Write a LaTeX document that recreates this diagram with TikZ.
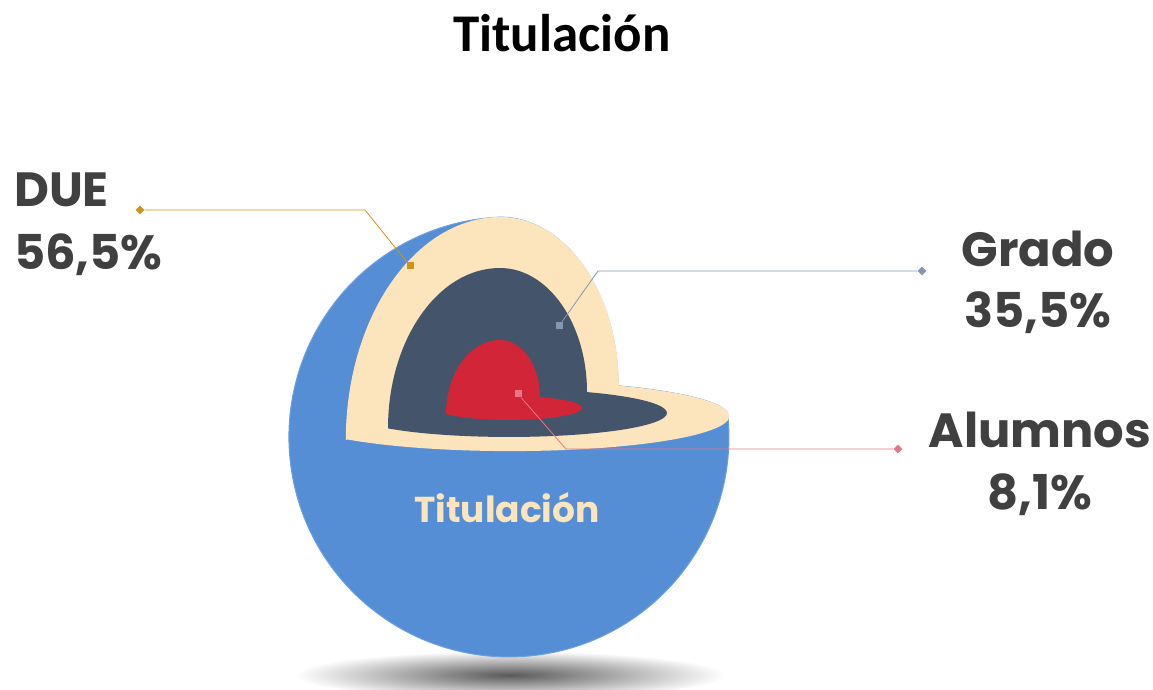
\documentclass[tikz,border=0pt]{standalone}
\usepackage{fontspec}
\setmainfont{Carlito}
\newfontfamily\geofont{Poppins}
\usetikzlibrary{positioning}
\usetikzlibrary{shapes.geometric}
\definecolor{sphereblue}{HTML}{558ED5}
\definecolor{creamlayer}{HTML}{FCE4BC}
\definecolor{slatelayer}{HTML}{44546A}
\definecolor{redcore}{HTML}{D22538}
\definecolor{labelgray}{HTML}{404040}
\definecolor{dueline}{HTML}{D58F1C}
\definecolor{gradoline}{HTML}{8497B0}
\definecolor{alumline}{HTML}{E57886}
\tikzset{
    label text/.style = {font=\geofont\bfseries\fontsize{48}{48}\selectfont, text=labelgray, inner sep=0pt},
    leader/.style = {line width=0.8pt},
    tip mark/.style = {diamond, inner sep=0pt, minimum size=9pt},
    spot mark/.style = {rectangle, inner sep=0pt, minimum size=7pt}}

\begin{document}
\begin{tikzpicture}[x=1pt, y=1pt,
    layer/.style = {draw=none}
    ]
    \useasboundingbox (0,0) rectangle (1153,690);
    % shadow and sphere
    \shade[inner color=black!65, outer color=white] (510,15) ellipse [x radius=215, y radius=24];
    \draw[fill=sphereblue, draw=sphereblue!85!white, line width=1pt] (728,273)
        arc[start angle=5.2, end angle=-267.7, radius=220]
        arc[start angle=90, end angle=0, x radius=118, y radius=168.7]
        arc[start angle=60.3, end angle=0, x radius=219, y radius=35] -- cycle;
    % layers
    \fill[creamlayer] (345.8,249.7)
        arc[start angle=180, end angle=90, x radius=155, y radius=223.3]
        arc[start angle=90, end angle=0, x radius=118, y radius=168.7]
        arc[start angle=60.3, end angle=-138.2, x radius=219, y radius=35] -- cycle;
    \fill[slatelayer] (388,261.6)
        arc[start angle=180, end angle=90, x radius=112, y radius=160.4]
        arc[start angle=90, end angle=0, x radius=87, y radius=124.1]
        arc[start angle=60.4, end angle=-140, x radius=158, y radius=24] -- cycle;
    \fill[redcore] (446,275.9)
        arc[start angle=180, end angle=90, x radius=54, y radius=74.1]
        arc[start angle=90, end angle=0, x radius=40, y radius=57.1]
        arc[start angle=64.9, end angle=-149.7, x radius=73, y radius=12] -- cycle;
    \node (core) [font=\geofont\bfseries\fontsize{36}{36}\selectfont, text=creamlayer, anchor=base] at (507,167) {Titulación};
    \node (title) [font=\bfseries\fontsize{53}{53}\selectfont, anchor=base] at (562,638) {Titulación};
    % labels
    \node (due) [label text, anchor=base west] at (14,483) {DUE};
    \node (duepct) [label text, below=63pt of due.base west, anchor=base west] {56,5\%};
    \node (grado) [label text, anchor=base] at (1038,423) {Grado};
    \node (gradopct) [label text, below=61pt of grado.base, anchor=base] {35,5\%};
    \node (alum) [label text, anchor=base] at (1040,242) {Alumnos};
    \node (alumpct) [label text, below=62pt of alum.base, anchor=base] {8,1\%};
    % leaders
    \node (duetip) [tip mark, fill=dueline] at (140,480) {};
    \coordinate (duebend) at (365,480);
    \node (duespot) [spot mark, fill=dueline] at (410,424) {};
    \draw[leader, draw=dueline] (duetip) -- (duebend) -- (duespot);
    \node (gradotip) [tip mark, fill=gradoline] at (922,419) {};
    \coordinate (gradobend) at (598,419);
    \node (gradospot) [spot mark, fill=gradoline] at (559,364) {};
    \draw[leader, draw=gradoline] (gradotip) -- (gradobend) -- (gradospot);
    \node (alumtip) [tip mark, fill=alumline] at (898,241) {};
    \coordinate (alumbend) at (566,241);
    \node (alumspot) [spot mark, fill=alumline] at (518,296) {};
    \draw[leader, draw=alumline] (alumtip) -- (alumbend) -- (alumspot);
\end{tikzpicture}
\end{document}
